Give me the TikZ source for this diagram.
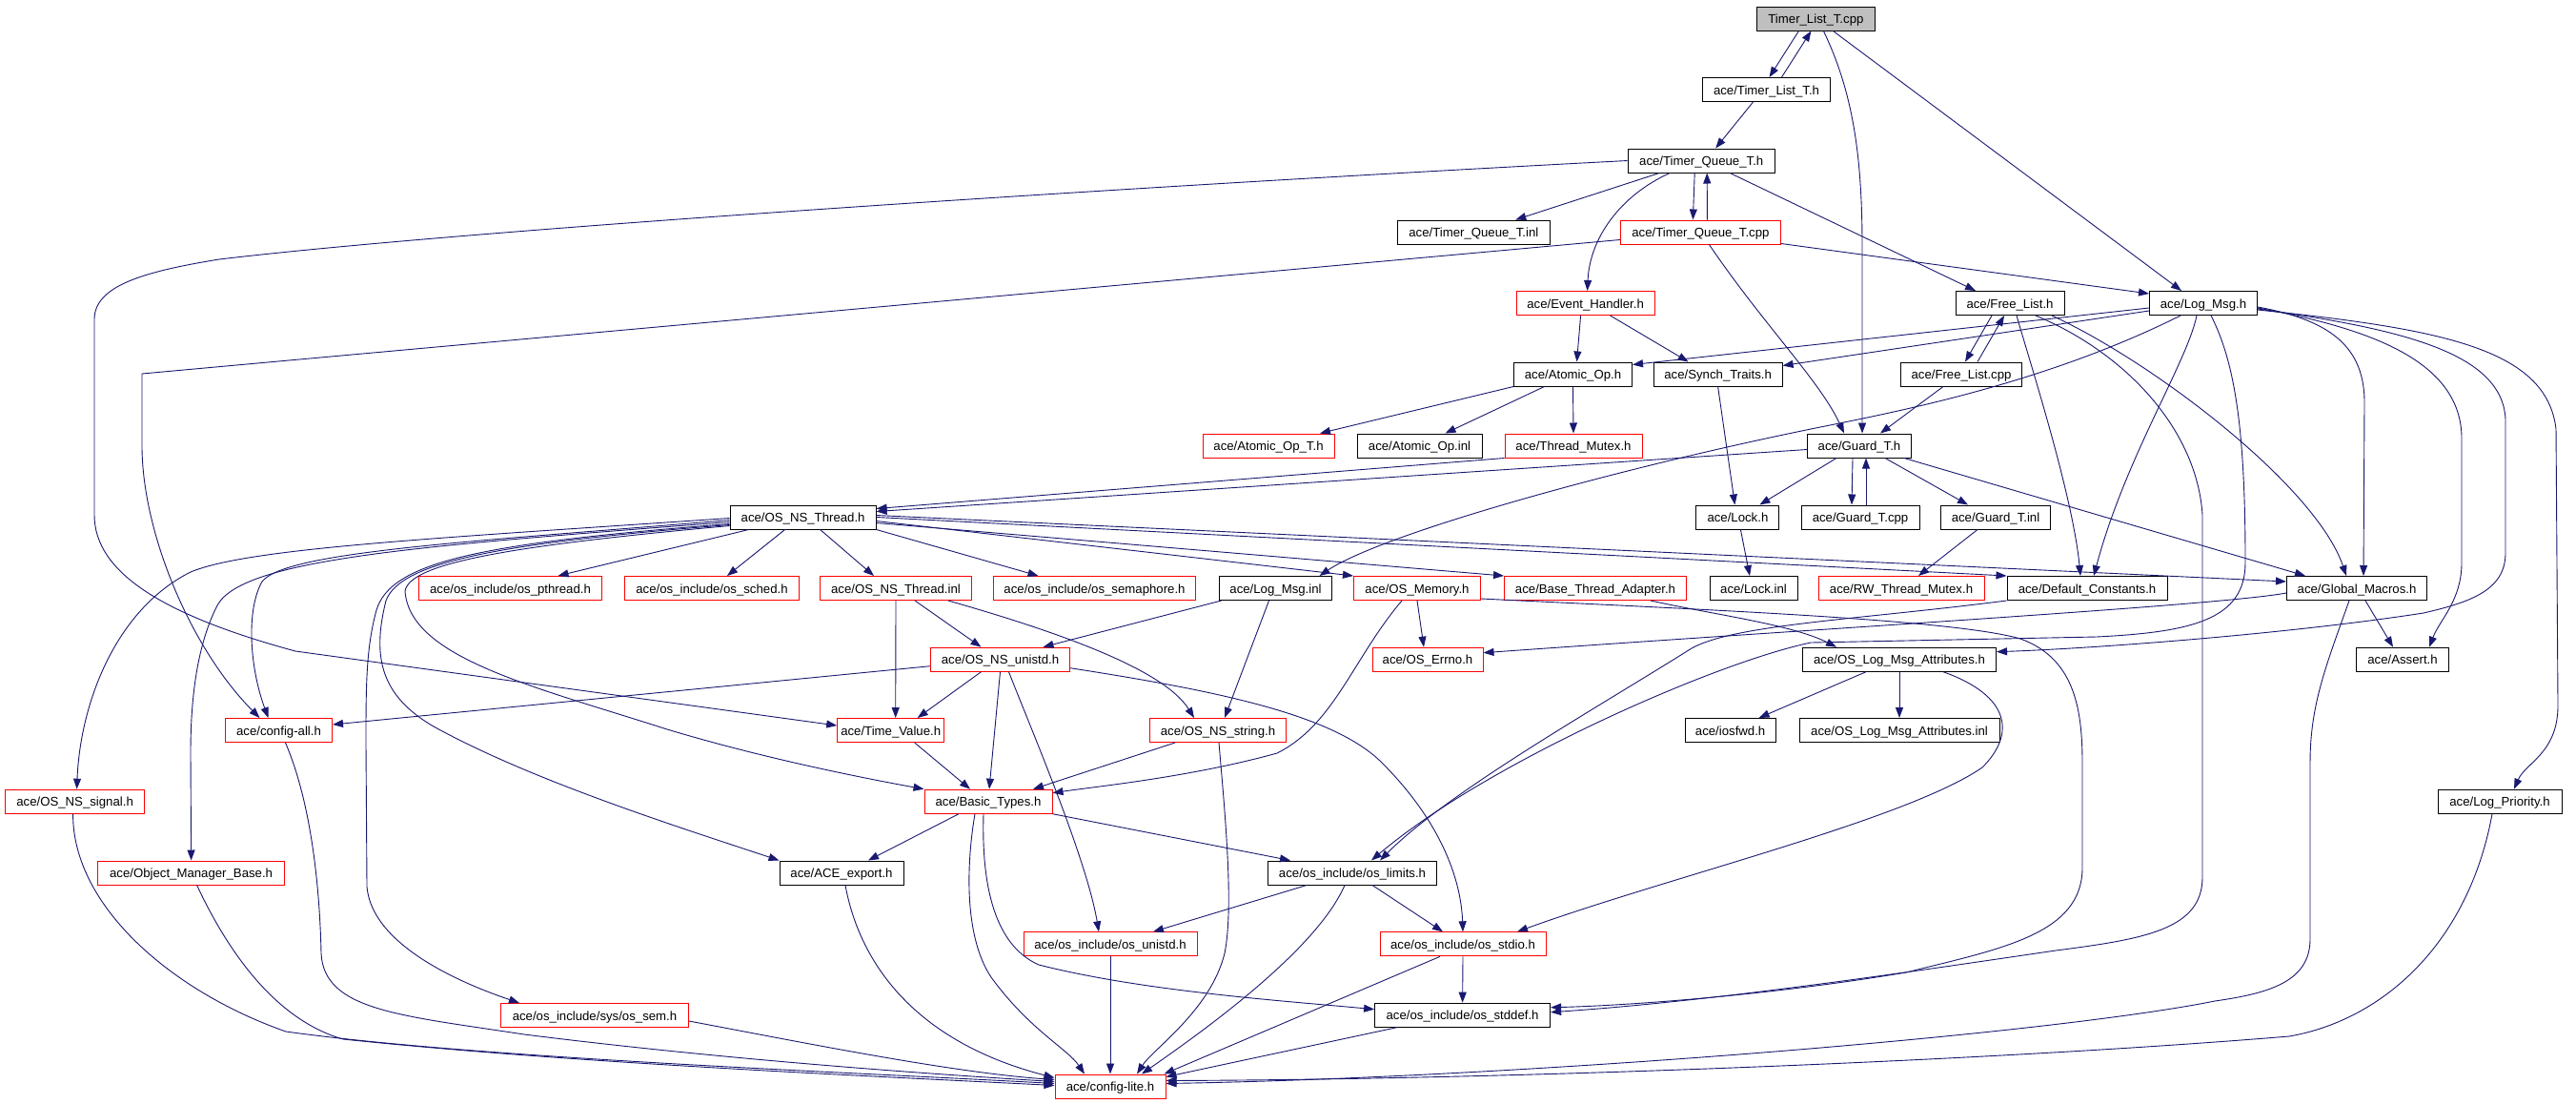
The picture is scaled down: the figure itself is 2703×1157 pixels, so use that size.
\documentclass[tikz,border=0pt]{standalone}
\usepackage{fontspec}
\usetikzlibrary{arrows.meta}
\newfontfamily\lblfam{Liberation Sans}
\definecolor{edgec}{RGB}{25,25,112}
\definecolor{gfill}{RGB}{191,191,191}
\begin{document}
\begin{tikzpicture}[x=1pt,y=-1pt,
  nb/.style={draw=black, line width=1pt, minimum height=25pt, inner sep=0pt,
    text height=10pt, text depth=0pt, font={\lblfam\fontsize{13.2pt}{15pt}\selectfont}},
  rb/.style={nb, draw=red},
  dep/.style={draw=edgec, line width=0.9pt, -{Triangle[length=11pt,width=8pt]}}]
\fill[white] (0,0) rectangle (2703,1157);
\useasboundingbox (0,0) rectangle (2703,1157);
% nodes
\node[nb, fill=gfill, minimum width=124pt] (tlcpp) at (1905.4,19.5) {Timer\_List\_T.cpp};
\node[nb, minimum width=134pt] (tlh) at (1853.5,94) {ace/Timer\_List\_T.h};
\node[nb, minimum width=154pt] (tqh) at (1785.2,168.5) {ace/Timer\_Queue\_T.h};
\node[nb, minimum width=160pt] (tqinl) at (1546.3,243.5) {ace/Timer\_Queue\_T.inl};
\node[rb, minimum width=168pt] (tqcpp) at (1784.4,243.5) {ace/Timer\_Queue\_T.cpp};
\node[rb, minimum width=145pt] (eh) at (1663.6,318) {ace/Event\_Handler.h};
\node[nb, minimum width=114pt] (flh) at (2109,318) {ace/Free\_List.h};
\node[nb, minimum width=113pt] (lmh) at (2312,318) {ace/Log\_Msg.h};
\node[nb, minimum width=124pt] (aoh) at (1650.5,392.5) {ace/Atomic\_Op.h};
\node[nb, minimum width=135pt] (sth) at (1802.6,392.5) {ace/Synch\_Traits.h};
\node[nb, minimum width=127pt] (flcpp) at (2058,392.5) {ace/Free\_List.cpp};
\node[rb, minimum width=138pt] (aoth) at (1331,467.5) {ace/Atomic\_Op\_T.h};
\node[nb, minimum width=131pt] (aoinl) at (1489.5,467.5) {ace/Atomic\_Op.inl};
\node[rb, minimum width=144pt] (tmh) at (1651,467.5) {ace/Thread\_Mutex.h};
\node[nb, minimum width=109pt] (gth) at (1951,467.5) {ace/Guard\_T.h};
\node[nb, minimum width=153pt] (osnsth) at (842.6,542.5) {ace/OS\_NS\_Thread.h};
\node[nb, minimum width=87pt] (lockh) at (1823.4,542.5) {ace/Lock.h};
\node[nb, minimum width=124pt] (gtcpp) at (1952,542.5) {ace/Guard\_T.cpp};
\node[nb, minimum width=115pt] (gtinl) at (2094,542.5) {ace/Guard\_T.inl};
\node[rb, minimum width=192pt] (pthr) at (535.5,617) {ace/os\_include/os\_pthread.h};
\node[rb, minimum width=183pt] (sched) at (747,617) {ace/os\_include/os\_sched.h};
\node[rb, minimum width=159pt] (osnsthinl) at (940,617) {ace/OS\_NS\_Thread.inl};
\node[rb, minimum width=212pt] (sem) at (1148.5,617) {ace/os\_include/os\_semaphore.h};
\node[nb, minimum width=118pt] (lminl) at (1338.5,617) {ace/Log\_Msg.inl};
\node[rb, minimum width=133pt] (osmem) at (1487,617) {ace/OS\_Memory.h};
\node[rb, minimum width=191pt] (bta) at (1674,617) {ace/Base\_Thread\_Adapter.h};
\node[nb, minimum width=92pt] (lockinl) at (1840,617) {ace/Lock.inl};
\node[rb, minimum width=174pt] (rwtm) at (1995,617) {ace/RW\_Thread\_Mutex.h};
\node[nb, minimum width=168pt] (defc) at (2190,617) {ace/Default\_Constants.h};
\node[nb, minimum width=147pt] (gm) at (2473,617) {ace/Global\_Macros.h};
\node[rb, minimum width=146pt] (unistd) at (1049.5,691.7) {ace/OS\_NS\_unistd.h};
\node[rb, minimum width=116pt] (errno) at (1498,691.7) {ace/OS\_Errno.h};
\node[nb, minimum width=203pt] (olma) at (1993,691.7) {ace/OS\_Log\_Msg\_Attributes.h};
\node[nb, minimum width=97pt] (assert) at (2521,691.7) {ace/Assert.h};
\node[rb, minimum width=112pt] (cfgall) at (292.5,766) {ace/config-all.h};
\node[rb, minimum width=112pt] (tv) at (934.7,766) {ace/Time\_Value.h};
\node[rb, minimum width=143pt] (nsstr) at (1278,766) {ace/OS\_NS\_string.h};
\node[nb, minimum width=95pt] (iosfwd) at (1815.6,766) {ace/iosfwd.h};
\node[nb, minimum width=210pt] (olmainl) at (1993,766) {ace/OS\_Log\_Msg\_Attributes.inl};
\node[rb, minimum width=146pt] (signal) at (78.6,840.7) {ace/OS\_NS\_signal.h};
\node[rb, minimum width=134pt] (bt) at (1037,840.7) {ace/Basic\_Types.h};
\node[nb, minimum width=130pt] (logpri) at (2623,840.7) {ace/Log\_Priority.h};
\node[rb, minimum width=196pt] (omb) at (200.6,915.5) {ace/Object\_Manager\_Base.h};
\node[nb, minimum width=130pt] (export) at (883,915.5) {ace/ACE\_export.h};
\node[nb, minimum width=177pt] (limits) at (1419,915.5) {ace/os\_include/os\_limits.h};
\node[rb, minimum width=182pt] (osunistd) at (1165,990.3) {ace/os\_include/os\_unistd.h};
\node[rb, minimum width=174pt] (stdio) at (1535,990.3) {ace/os\_include/os\_stdio.h};
\node[rb, minimum width=197pt] (ossem) at (624,1065) {ace/os\_include/sys/os\_sem.h};
\node[nb, minimum width=184pt] (stddef) at (1534.6,1064.7) {ace/os\_include/os\_stddef.h};
\node[rb, minimum width=116pt] (cfglite) at (1165,1139.5) {ace/config-lite.h};
% edges: top part
\draw[dep] ([xshift=-18pt]tlcpp.south) -- ([xshift=3pt]tlh.north);
\draw[dep] ([xshift=16pt]tlh.north) -- ([xshift=-5pt]tlcpp.south);
\draw[dep] ([xshift=8pt]tlcpp.south) .. controls (1946,100) and (1954,170) .. (1954,260) -- ([xshift=3pt]gth.north);
\draw[dep] ([xshift=18pt]tlcpp.south) -- ([xshift=-23pt]lmh.north);
\draw[dep] ([xshift=-14pt]tlh.south) -- ([xshift=15pt]tqh.north);
\draw[dep] ([xshift=-44pt]tqh.south) -- ([xshift=44pt]tqinl.north);
\draw[dep] ([xshift=-7pt]tqh.south) -- ([xshift=-8pt]tqcpp.north);
\draw[dep] ([xshift=7pt]tqcpp.north) -- ([xshift=6pt]tqh.south);
\draw[dep] ([xshift=-33pt]tqh.south) .. controls (1700,205) and (1668,250) .. ([xshift=2pt]eh.north);
\draw[dep] ([xshift=30pt]tqh.south) -- ([xshift=-36pt]flh.north);
\draw[dep] (tqh.west) .. controls (1200,195) and (500,240) .. (230,272) .. controls (150,285) and (99,300) .. (99,335) -- (99,540) .. controls (99,600) and (170,645) .. (310,683) -- ([yshift=5pt]tv.west);
\draw[dep] ([yshift=-8pt]tqcpp.west) -- (281,380) -- (149,392) -- (149,470) .. controls (150,560) and (200,680) .. ([xshift=-20pt]cfgall.north);
\draw[dep] ([yshift=-12pt]tqcpp.east) -- ([yshift=10pt]lmh.west);
\draw[dep] ([xshift=9pt]tqcpp.south) .. controls (1850,340) and (1910,400) .. ([xshift=-16pt]gth.north);
\draw[dep] ([xshift=-5pt]eh.south) -- ([xshift=4pt]aoh.north);
\draw[dep] ([xshift=26pt]eh.south) -- ([xshift=-31pt]sth.north);
\draw[dep] ([xshift=-19pt]flh.south) -- ([xshift=4pt]flcpp.north);
\draw[dep] ([xshift=17pt]flcpp.north) -- ([xshift=-6pt]flh.south);
\draw[dep] ([xshift=7pt]flh.south) .. controls (2130,380) and (2175,520) .. ([xshift=-7pt]defc.north);
\draw[dep] ([xshift=44pt]flh.south) .. controls (2260,380) and (2430,510) .. ([xshift=-11pt]gm.north);
\draw[dep] ([xshift=27pt]flh.south) .. controls (2230,370) and (2305,450) .. (2311,540) -- (2311,920) .. controls (2311,975) and (2250,985) .. (2157,997) .. controls (2000,1020) and (1800,1050) .. ([yshift=3pt]stddef.east);
% Log_Msg.h
\draw[dep] ([yshift=-5pt]lmh.west) -- ([yshift=10pt]aoh.east);
\draw[dep] ([yshift=-8pt]lmh.west) -- ([yshift=9pt]sth.east);
\draw[dep] ([xshift=-24pt]lmh.south) .. controls (2150,400) and (2000,430) .. (1915,447) .. controls (1700,490) and (1450,560) .. ([xshift=46pt]lminl.north);
\draw[dep] ([xshift=-7pt]lmh.south) .. controls (2295,380) and (2230,480) .. ([xshift=7pt]defc.north);
\draw[dep] ([xshift=8pt]lmh.south) .. controls (2345,380) and (2356,450) .. (2356,590) .. controls (2356,650) and (2300,663) .. (2200,668) -- (1900,674) .. controls (1800,695) and (1560,800) .. ([xshift=20pt]limits.north);
\draw[dep] ([yshift=-4pt]lmh.east) .. controls (2440,335) and (2480,360) .. (2481,420) -- ([xshift=7pt]gm.north);
\draw[dep] ([yshift=-5pt]lmh.east) .. controls (2490,345) and (2583,380) .. (2583,460) -- (2583,590) .. controls (2583,630) and (2560,650) .. ([xshift=28pt]assert.north);
\draw[dep] ([yshift=-6pt]lmh.east) .. controls (2520,345) and (2626,370) .. (2629,440) -- (2629,580) .. controls (2629,620) and (2590,632) .. (2543,643) .. controls (2400,665) and (2200,680) .. ([yshift=8pt]olma.east);
\draw[dep] ([yshift=-7pt]lmh.east) .. controls (2560,345) and (2672,365) .. (2682,450) -- (2684,740) .. controls (2684,790) and (2650,800) .. ([xshift=15pt]logpri.north);
% Guard, Lock, Atomic
\draw[dep] ([xshift=-24pt]gth.south) -- ([xshift=23pt]lockh.north);
\draw[dep] ([xshift=-7pt]gth.south) -- ([xshift=-9pt]gtcpp.north);
\draw[dep] ([xshift=6pt]gtcpp.north) -- ([xshift=7pt]gth.south);
\draw[dep] ([xshift=27pt]gth.south) -- ([xshift=-29pt]gtinl.north);
\draw[dep] ([xshift=47pt]gth.south) -- ([xshift=-54pt]gm.north);
\draw[dep] ([yshift=-4pt]gth.west) -- ([yshift=6pt]osnsth.east);
\draw[dep] (tmh.south west) -- ([yshift=9pt]osnsth.east);
\draw[dep] ([xshift=-19pt]gtinl.south) -- ([xshift=18pt]rwtm.north);
\draw[dep] (sth.south) -- ([xshift=-3pt]lockh.north);
\draw[dep] ([xshift=3pt]lockh.south) -- ([xshift=-4pt]lockinl.north);
\draw[dep] ([xshift=-19pt]flcpp.south) -- ([xshift=22pt]gth.north);
\draw[dep] (aoh.south west) -- ([xshift=54pt]aoth.north);
\draw[dep] ([xshift=-30pt]aoh.south) -- ([xshift=27pt]aoinl.north);
\draw[dep] (aoh.south) -- (tmh.north);
% OS_NS_Thread.h
\draw[dep] ([xshift=-57pt]osnsth.south) -- ([xshift=50pt]pthr.north);
\draw[dep] ([xshift=-19pt]osnsth.south) -- ([xshift=16pt]sched.north);
\draw[dep] ([xshift=18pt]osnsth.south) -- ([xshift=-23pt]osnsthinl.north);
\draw[dep] (osnsth.south east) -- ([xshift=-59pt]sem.north);
\draw[dep] ([yshift=-4pt]osnsth.east) -- (osmem.north west);
\draw[dep] ([yshift=-6pt]osnsth.east) -- (bta.north west);
\draw[dep] ([yshift=0pt]osnsth.east) -- (defc.north west);
\draw[dep] ([yshift=2pt]osnsth.east) -- ([yshift=7pt]gm.west);
\draw[dep] ([yshift=-1pt]osnsth.west) .. controls (450,565) and (260,575) .. (200,600) .. controls (120,640) and (84,740) .. ([xshift=2pt]signal.north);
\draw[dep] ([yshift=-3pt]osnsth.west) .. controls (500,568) and (300,578) .. (275,610) .. controls (258,640) and (262,700) .. ([xshift=-11pt]cfgall.north);
\draw[dep] ([yshift=-5pt]osnsth.west) .. controls (450,572) and (255,585) .. (228,635) .. controls (205,680) and (200,740) .. (200,790) -- (omb.north);
\draw[dep] ([yshift=-7pt]osnsth.west) .. controls (500,570) and (410,590) .. (395,640) .. controls (384,680) and (384,720) .. (384,780) -- (385,930) .. controls (390,990) and (480,1030) .. ([xshift=-79pt]ossem.north);
\draw[dep] ([yshift=-8pt]osnsth.west) .. controls (520,570) and (420,590) .. (405,630) .. controls (390,690) and (400,730) .. (455,762) .. controls (560,820) and (720,870) .. (export.north west);
\draw[dep] ([yshift=-9pt]osnsth.west) .. controls (540,572) and (430,590) .. (425,620) .. controls (430,690) and (560,720) .. (700,765) .. controls (800,795) and (900,815) .. (bt.north west);
% middle rows
\draw[dep] ([xshift=20pt]osnsthinl.south) -- ([xshift=-20pt]unistd.north);
\draw[dep] (osnsthinl.south) -- ([xshift=5pt]tv.north);
\draw[dep] ([xshift=55pt]osnsthinl.south) .. controls (1100,660) and (1220,700) .. ([xshift=-25pt]nsstr.north);
\draw[dep] ([xshift=-57pt]lminl.south) -- ([xshift=45pt]unistd.north);
\draw[dep] ([xshift=-7pt]lminl.south) -- ([xshift=7pt]nsstr.north);
\draw[dep] (osmem.south) -- ([xshift=-4pt]errno.north);
\draw[dep] ([xshift=-16pt]osmem.south) .. controls (1420,690) and (1400,760) .. (1340,790) .. controls (1250,815) and (1150,825) .. ([yshift=9pt]bt.east);
\draw[dep] ([yshift=-11pt]osmem.east) .. controls (1800,640) and (2050,650) .. (2120,670) .. controls (2175,690) and (2185,740) .. (2185,800) -- (2185,910) .. controls (2185,980) and (2100,995) .. (2000,1020) .. controls (1850,1045) and (1700,1055) .. ([yshift=8pt]stddef.east);
\draw[dep] ([xshift=58pt]bta.south) .. controls (1800,645) and (1880,655) .. ([xshift=-66pt]olma.north);
\draw[dep] (defc.south west) .. controls (1950,650) and (1820,655) .. (1775,680) .. controls (1680,740) and (1520,830) .. ([xshift=29pt]limits.north);
\draw[dep] ([yshift=-5pt]gm.west) .. controls (2330,635) and (1900,660) .. ([yshift=7pt]errno.east);
\draw[dep] ([xshift=9pt]gm.south) -- ([xshift=-10pt]assert.north);
\draw[dep] ([xshift=-8pt]gm.south) .. controls (2440,700) and (2424,740) .. (2424,800) -- (2424,985) .. controls (2424,1030) and (2380,1042) .. (2324,1050) .. controls (2150,1085) and (1600,1130) .. ([yshift=3pt]cfglite.east);
\draw[dep] ([xshift=-8pt]logpri.south) .. controls (2590,990) and (2500,1070) .. (2402,1087) .. controls (2100,1112) and (1600,1132) .. ([yshift=6pt]cfglite.east);
\draw[dep] ([xshift=-35pt]olma.south) -- ([xshift=30pt]iosfwd.north);
\draw[dep] (olma.south) -- (olmainl.north);
\draw[dep] ([xshift=46pt]olma.south) .. controls (2110,730) and (2115,770) .. (2080,805) .. controls (2000,860) and (1750,920) .. ([xshift=57pt]stdio.north);
\draw[dep] ([yshift=-7pt]unistd.west) -- ([yshift=6pt]cfgall.east);
\draw[dep] ([xshift=-20pt]unistd.south) -- ([xshift=28pt]tv.north);
\draw[dep] (unistd.south) -- ([xshift=1pt]bt.north);
\draw[dep] ([xshift=9pt]unistd.south) .. controls (1080,760) and (1140,900) .. ([xshift=-12pt]osunistd.north);
\draw[dep] ([yshift=-9pt]unistd.east) .. controls (1280,725) and (1400,750) .. (1450,800) .. controls (1510,860) and (1533,920) .. (stdio.north);
\draw[dep] ([xshift=25pt]tv.south) -- ([xshift=-19pt]bt.north);
\draw[dep] ([xshift=-45pt]nsstr.south) -- ([xshift=47pt]bt.north);
\draw[dep] ([xshift=1pt]nsstr.south) .. controls (1285,850) and (1295,950) .. (1285,1000) .. controls (1270,1060) and (1210,1100) .. ([xshift=28pt]cfglite.north);
% lower rows
\draw[dep] ([xshift=-31pt]bt.south) -- ([xshift=28pt]export.north);
\draw[dep] (bt.south east) -- ([xshift=-65pt]limits.north);
\draw[dep] ([xshift=-14pt]bt.south) .. controls (1015,900) and (1010,980) .. (1040,1025) .. controls (1080,1080) and (1120,1100) .. ([xshift=-27pt]cfglite.north);
\draw[dep] ([xshift=-5pt]bt.south) .. controls (1030,920) and (1040,990) .. (1090,1012) .. controls (1200,1040) and (1350,1050) .. ([yshift=6pt]stddef.west);
\draw[dep] ([xshift=4pt]export.south) .. controls (900,1000) and (950,1090) .. ([yshift=9pt]cfglite.west);
\draw[dep] ([xshift=-2pt]signal.south) .. controls (76,950) and (180,1040) .. (300,1082) .. controls (500,1110) and (900,1125) .. ([yshift=3pt]cfglite.west);
\draw[dep] ([xshift=6pt]omb.south) .. controls (240,1000) and (290,1070) .. (360,1090) .. controls (600,1115) and (900,1128) .. ([yshift=1pt]cfglite.west);
\draw[dep] ([xshift=7pt]cfgall.south) .. controls (330,850) and (336,950) .. (337,1000) .. controls (340,1060) and (420,1065) .. (550,1085) .. controls (750,1110) and (950,1125) .. ([yshift=5pt]cfglite.west);
\draw[dep] ([yshift=-6pt]ossem.east) .. controls (850,1095) and (1000,1125) .. ([yshift=7pt]cfglite.west);
\draw[dep] ([xshift=-48pt]limits.south) -- ([xshift=45pt]osunistd.north);
\draw[dep] ([xshift=21pt]limits.south) -- ([xshift=-21pt]stdio.north);
\draw[dep] ([xshift=-8pt]limits.south) .. controls (1380,1000) and (1250,1090) .. ([xshift=33pt]cfglite.north);
\draw[dep] (osunistd.south) -- (cfglite.north);
\draw[dep] (stdio.south) -- (stddef.north);
\draw[dep] ([xshift=-24pt]stdio.south) -- ([xshift=-2pt]cfglite.north east);
\draw[dep] ([xshift=-69pt]stddef.south) -- ([yshift=-3pt]cfglite.north east);
\end{tikzpicture}
\end{document}
